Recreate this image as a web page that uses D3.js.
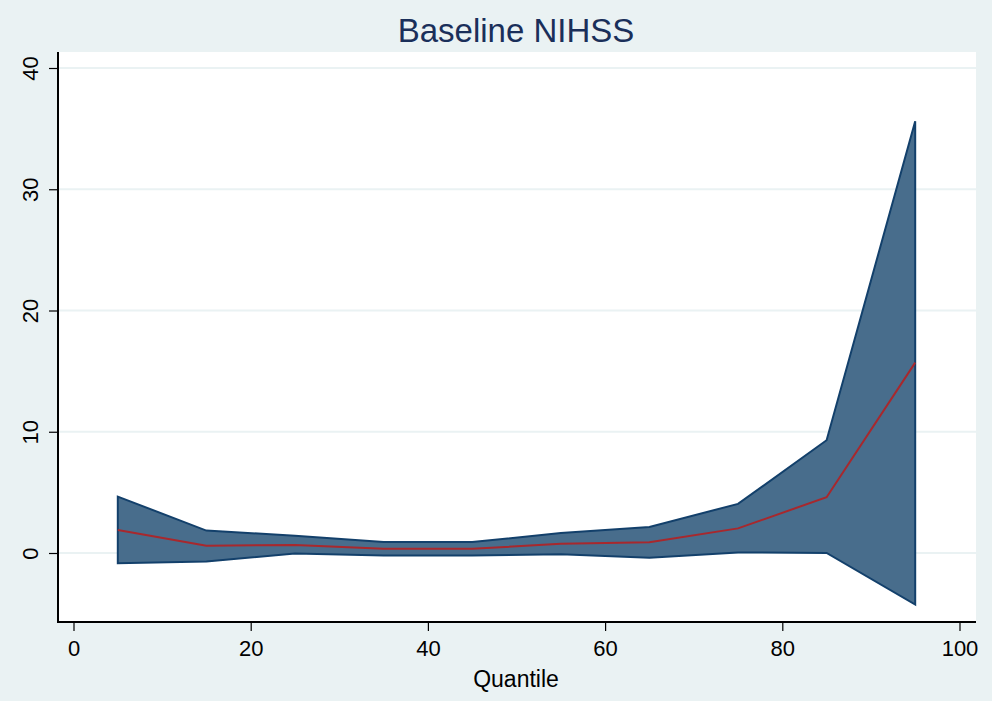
<!DOCTYPE html>
<html><head><meta charset="utf-8">
<script src="https://cdn.jsdelivr.net/npm/d3@7"></script>
<style>
html,body{margin:0;padding:0;background:#eaf2f3;}
svg{display:block;font-family:"Liberation Sans",Arial,Helvetica,sans-serif;}
</style></head>
<body>
<svg id="chart" width="992" height="701"></svg>
<script>
const quantiles = [5, 15, 25, 35, 45, 55, 65, 75, 85, 95];
const upperCI   = [4.65, 1.85, 1.43, 0.9, 0.9, 1.65, 2.15, 4.05, 9.3, 35.6];
const meanDiff  = [1.9, 0.6, 0.66, 0.35, 0.35, 0.76, 0.88, 2.03, 4.6, 15.7];
const lowerCI   = [-0.85, -0.7, -0.05, -0.2, -0.2, -0.1, -0.39, 0.05, 0.0, -4.25];
const xTicks = [0, 20, 40, 60, 80, 100];
const yTicks = [0, 10, 20, 30, 40];
const titleText = "Baseline NIHSS";
const xTitle = "Quantile";

const svg = d3.select("#chart");
const W = 992, H = 701;
const plot = {left: 58, right: 976, top: 52, bottom: 622};

svg.append("rect").attr("width", W).attr("height", H).attr("fill", "#eaf2f3");
svg.append("rect").attr("x", plot.left).attr("y", plot.top)
  .attr("width", plot.right - plot.left).attr("height", plot.bottom - plot.top)
  .attr("fill", "#ffffff");

const x = d3.scaleLinear().domain([0, 100]).range([73.5, 959.5]);
const y = d3.scaleLinear().domain([0, 40]).range([553, 68]);

// gridlines
svg.append("g").selectAll("line").data(yTicks).join("line")
  .attr("x1", plot.left).attr("x2", plot.right)
  .attr("y1", d => y(d)).attr("y2", d => y(d))
  .attr("stroke", "#eaf2f3").attr("stroke-width", 2);

const data = quantiles.map((q, i) => ({q, lo: lowerCI[i], hi: upperCI[i], m: meanDiff[i]}));

// CI area
const area = d3.area().x(d => x(d.q)).y0(d => y(d.lo)).y1(d => y(d.hi));
svg.append("path").datum(data)
  .attr("d", area)
  .attr("fill", "#486d8c").attr("stroke", "#13406b").attr("stroke-width", 2)
  .attr("stroke-linejoin", "miter");

// mean line
const line = d3.line().x(d => x(d.q)).y(d => y(d.m));
svg.append("path").datum(data).attr("d", line)
  .attr("fill", "none").attr("stroke", "#a8282d").attr("stroke-width", 2);

// axes
const yAxis = d3.axisLeft(y).tickValues(yTicks).tickSize(9).tickPadding(6).tickFormat(d3.format("d"));
const gy = svg.append("g").attr("transform", `translate(${plot.left},0)`).call(yAxis);
gy.select(".domain").remove();
gy.selectAll(".tick line").attr("stroke", "#000").attr("stroke-width", 1.2);
gy.selectAll(".tick text")
  .attr("x", 0).attr("y", 0)
  .attr("text-anchor", "middle")
  .attr("font-size", 22).attr("fill", "#000")
  .attr("transform", "translate(-28,0) rotate(-90)")
  .attr("dy", "0.35em");

const xAxis = d3.axisBottom(x).tickValues(xTicks).tickSize(9).tickPadding(5);
const gx = svg.append("g").attr("transform", `translate(0,${plot.bottom})`).call(xAxis);
gx.select(".domain").remove();
gx.selectAll(".tick line").attr("stroke", "#000").attr("stroke-width", 1.2);
gx.selectAll(".tick text").attr("font-size", 22).attr("fill", "#000").attr("dy", "0.9em");

// axis lines
svg.append("line").attr("x1", plot.left).attr("x2", plot.left)
  .attr("y1", plot.top).attr("y2", plot.bottom + 1)
  .attr("stroke", "#000").attr("stroke-width", 2);
svg.append("line").attr("x1", plot.left - 1).attr("x2", plot.right)
  .attr("y1", plot.bottom).attr("y2", plot.bottom)
  .attr("stroke", "#000").attr("stroke-width", 2);

// titles
svg.append("text").attr("x", 516).attr("y", 42).attr("text-anchor", "middle")
  .attr("font-size", 33).attr("fill", "#1a2f5a").text(titleText);
svg.append("text").attr("x", 516).attr("y", 687).attr("text-anchor", "middle")
  .attr("font-size", 23).attr("fill", "#000").text(xTitle);
</script>
</body></html>
